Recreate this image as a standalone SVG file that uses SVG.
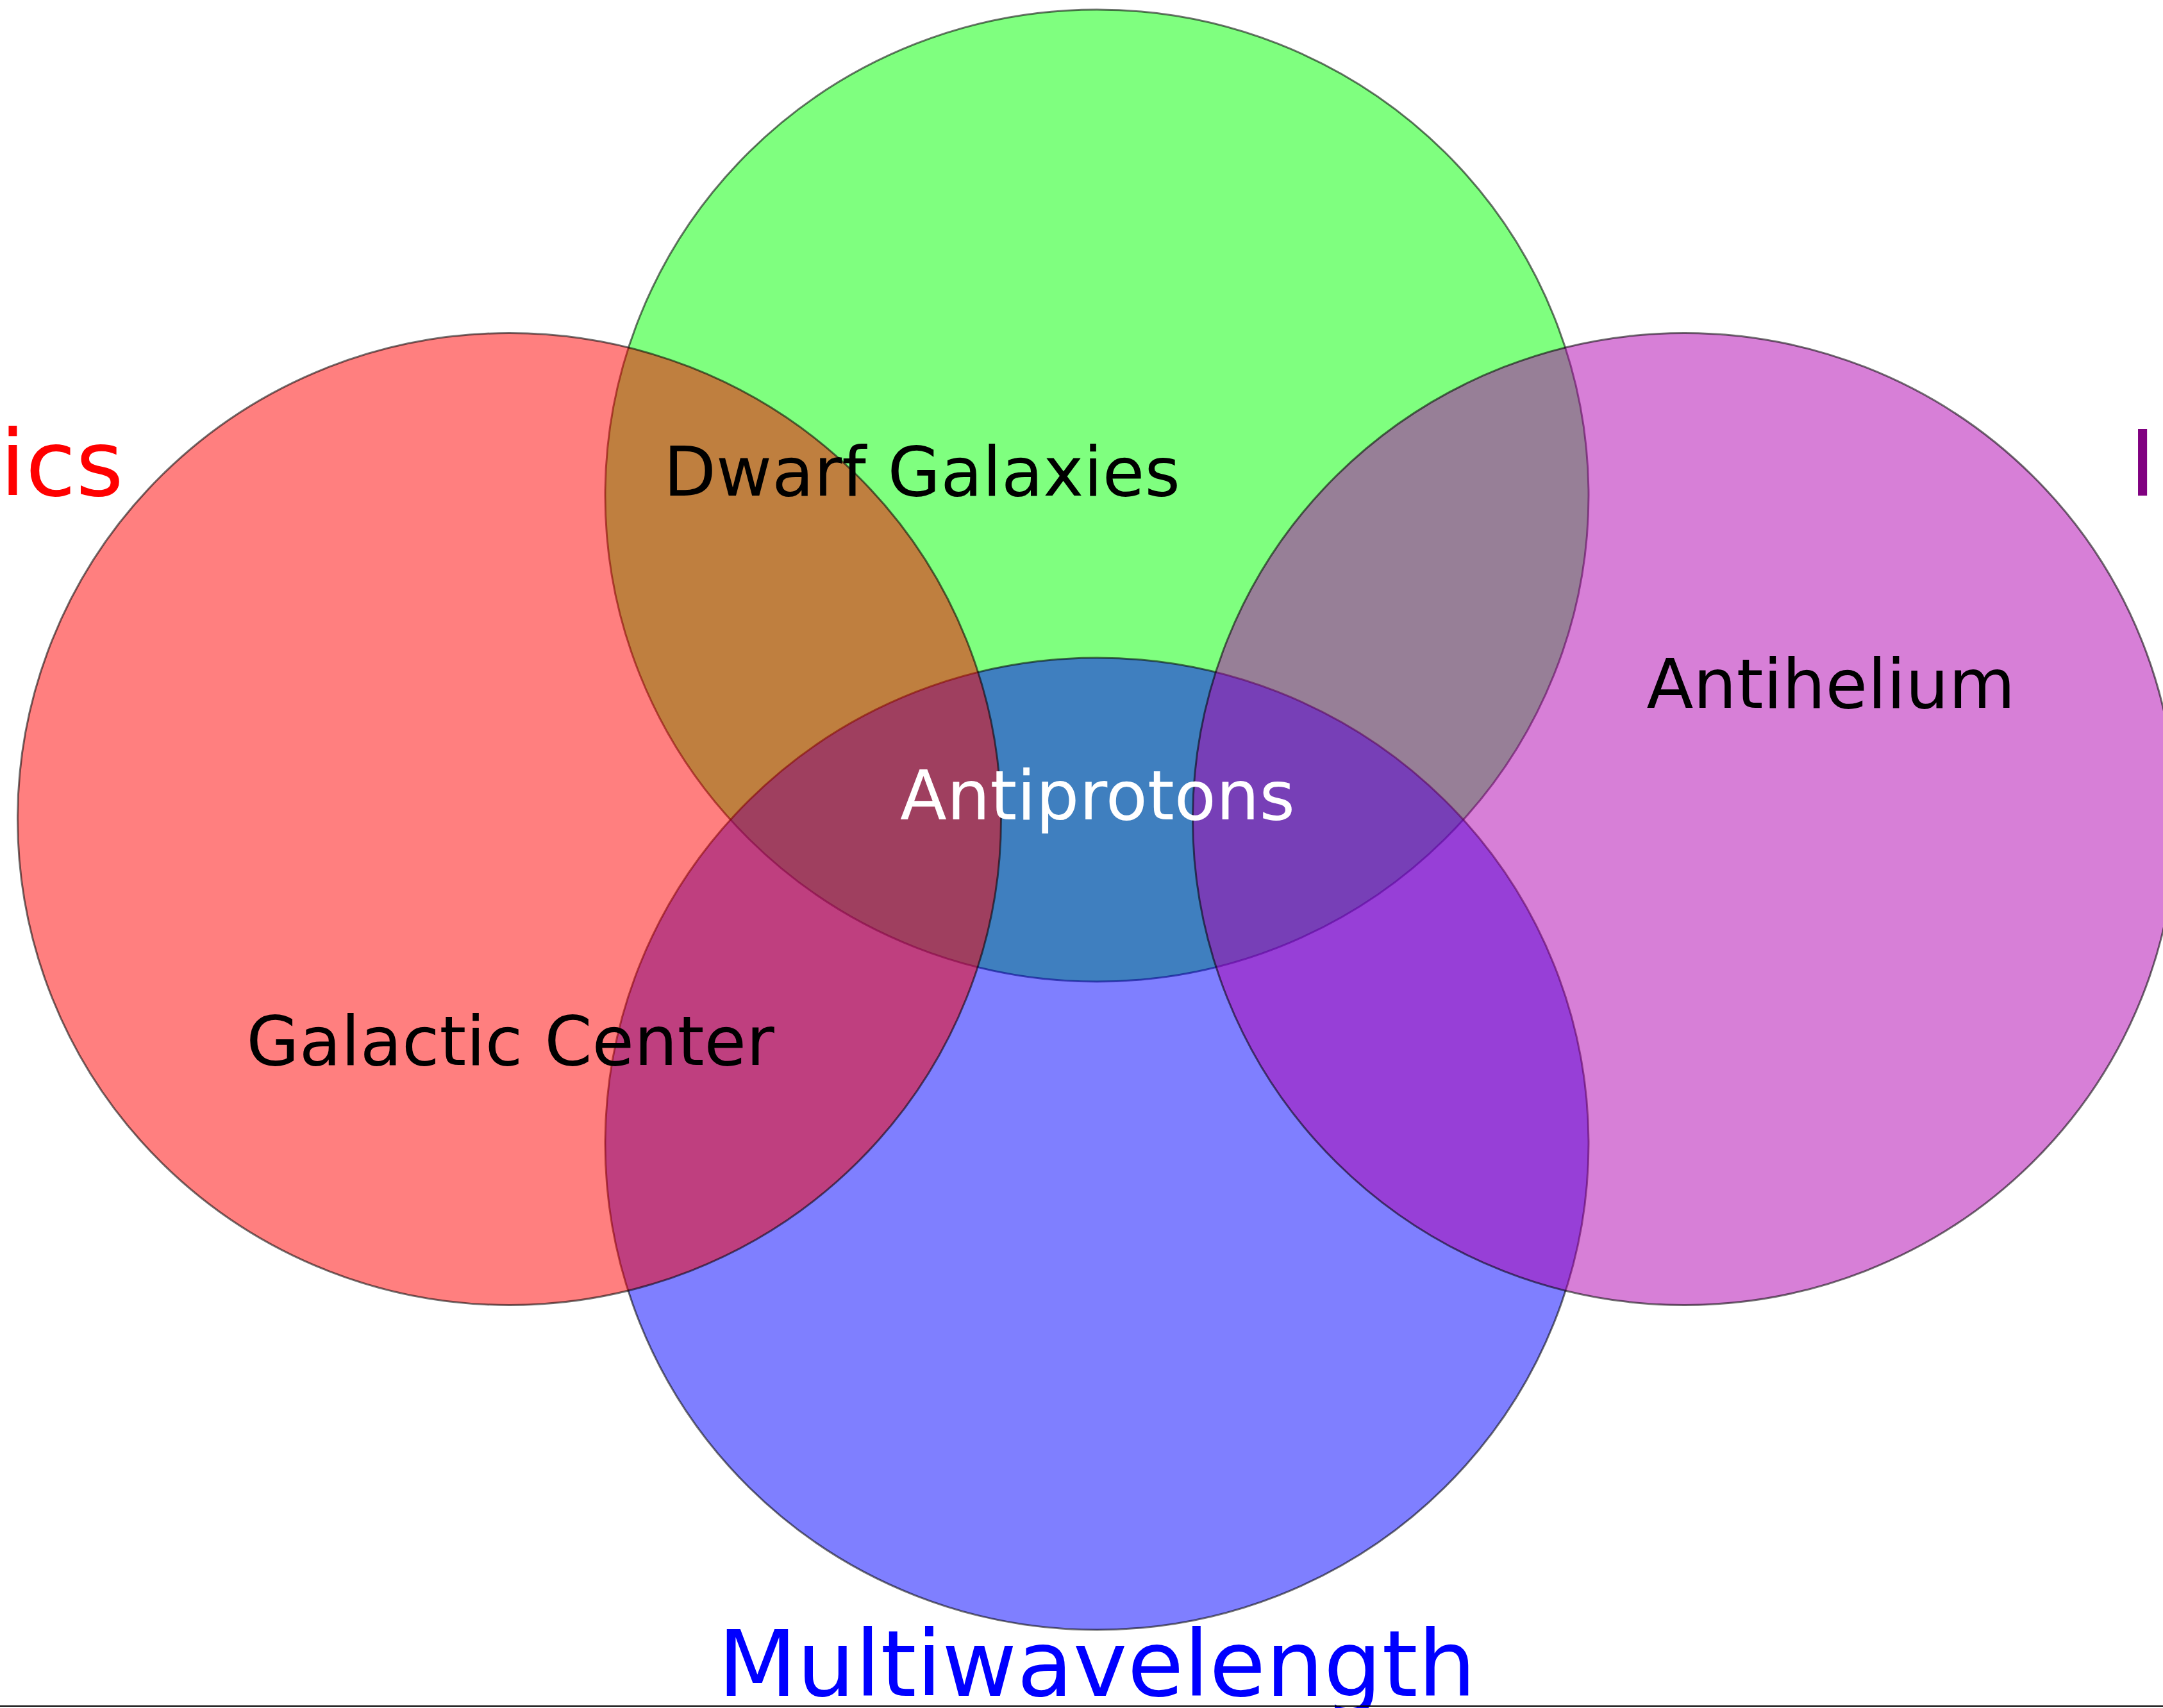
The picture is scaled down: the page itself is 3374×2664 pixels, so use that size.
<svg xmlns="http://www.w3.org/2000/svg" width="3374" height="2664" viewBox="0 0 3374 2664">
  <style>
    .set { fill-opacity: 0.5; stroke: #000; stroke-opacity: 0.55; stroke-width: 3; }
    .lbl { font-family: "DejaVu Sans", "Liberation Sans", sans-serif; font-size: 106.5px; text-anchor: middle; }
    .title { font-family: "DejaVu Sans", "Liberation Sans", sans-serif; font-size: 143px; }
  </style>
  <rect width="3374" height="2664" fill="#fff"/>
  <!-- set ellipses, drawn back to front -->
  <g id="set-green"><ellipse class="set" cx="1711" cy="773" rx="767" ry="758" fill="#00ff00"/></g>
  <g id="set-blue"><ellipse class="set" cx="1711" cy="1784" rx="767" ry="758" fill="#0000ff"/></g>
  <g id="set-red"><ellipse class="set" cx="794.5" cy="1277.5" rx="767" ry="758" fill="#ff0000"/></g>
  <g id="set-purple"><ellipse class="set" cx="2627.5" cy="1277.5" rx="767" ry="758" fill="#b000b0"/></g>
  <g id="connectors"/>
  <!-- region labels -->
  <g id="label-dwarf"><text class="lbl" x="1438" y="773" fill="#000">Dwarf Galaxies</text></g>
  <g id="label-antiprotons"><text class="lbl" x="1712" y="1278" fill="#fff">Antiprotons</text></g>
  <g id="label-antihelium"><text class="lbl" x="2856" y="1104" fill="#000">Antihelium</text></g>
  <g id="label-gc"><text class="lbl" x="796" y="1661" fill="#000">Galactic Center</text></g>
  <!-- set titles -->
  <g id="title-red"><text class="title" x="0" y="773" fill="#ff0000">ics</text></g>
  <g id="title-purple"><text class="title" x="3321" y="773" fill="#800080">In</text></g>
  <g id="title-blue"><text class="title" x="1711" y="2645" fill="#0000ff" text-anchor="middle">Multiwavelength</text></g>
  <!-- frame edge -->
  <rect x="0" y="2660" width="3374" height="2" fill="#000"/>
</svg>
